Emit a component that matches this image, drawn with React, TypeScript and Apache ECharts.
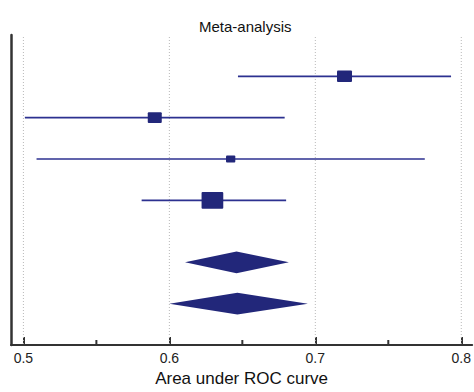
import React, { useEffect, useRef } from "react";
import * as echarts from "echarts";

// Individual studies (rows from top)
const studyRows = [1, 2, 3, 4];
const studyAUC = [0.72, 0.59, 0.642, 0.6295];
const studyLower = [0.647, 0.501, 0.509, 0.581];
const studyUpper = [0.793, 0.679, 0.775, 0.68];
const studyWeight = [15, 14, 9.3, 21.7];

// Pooled estimates (diamonds)
const pooledRows = [5.5, 6.5];
const pooledAUC = [0.646, 0.6466];
const pooledLower = [0.6107, 0.6];
const pooledUpper = [0.6819, 0.6949];

// Axis ticks
const majorTicks = [0.5, 0.6, 0.7, 0.8];
const minorTicks = [0.55, 0.65, 0.75];
const xMin = 0.4915;
const xMax = 0.8075;

const LINE = "#2c3190";
const FILL = "#22277a";
const FONT = "Liberation Sans, Arial, sans-serif";

export default function App() {
  const ref = useRef<HTMLDivElement>(null);
  useEffect(() => {
    if (!ref.current) return;
    const chart = echarts.init(ref.current, null, { renderer: "svg" });
    const studyData = studyRows.map((r, i) => [studyLower[i], studyUpper[i], studyAUC[i], r, studyWeight[i]]);
    const pooledData = pooledRows.map((r, i) => [pooledLower[i], pooledUpper[i], pooledAUC[i], r]);
    chart.setOption({
      animation: false,
      title: {
        text: "Meta-analysis",
        left: 194,
        top: 14,
        textStyle: { fontFamily: FONT, fontSize: 15, fontWeight: "normal", color: "#111" },
      },
      grid: { left: 11, right: 0, top: 35, bottom: 42 },
      xAxis: {
        type: "value",
        min: xMin,
        max: xMax,
        axisLine: { show: true, onZero: false, lineStyle: { color: "#333", width: 2 } },
        axisTick: { show: true, inside: true, length: 8, customValues: majorTicks, lineStyle: { color: "#333", width: 2 } },
        axisLabel: {
          customValues: majorTicks,
          margin: 6,
          fontFamily: FONT,
          fontSize: 14,
          color: "#222",
          formatter: (v: number) => String(v),
        },
        splitLine: { show: false },
        name: "Area under ROC curve",
        nameLocation: "middle",
        nameGap: 25,
        nameTextStyle: { fontFamily: FONT, fontSize: 17, color: "#111" },
      },
      yAxis: {
        type: "value",
        min: 0,
        max: 7.5,
        inverse: true,
        axisLine: { show: true, onZero: false, lineStyle: { color: "#333", width: 2.5 } },
        axisTick: { show: false },
        axisLabel: { show: false },
        splitLine: { show: false },
      },
      series: [
        {
          type: "custom",
          data: majorTicks.map((t) => [t, 0]),
          encode: { x: 0, y: 1 },
          silent: true,
          z: 1,
          renderItem: (params: any, api: any) => {
            const p = api.coord([api.value(0), 0]);
            const cs = params.coordSys;
            return {
              type: "line",
              shape: { x1: p[0], y1: cs.y + 2, x2: p[0], y2: cs.y + cs.height },
              style: { stroke: "#b8b8b8", lineWidth: 1, lineDash: [1, 2] },
            };
          },
        },
        {
          type: "custom",
          data: minorTicks.map((t) => [t, 0]),
          encode: { x: 0, y: 1 },
          silent: true,
          z: 5,
          renderItem: (params: any, api: any) => {
            const p = api.coord([api.value(0), 0]);
            const cs = params.coordSys;
            const yb = cs.y + cs.height;
            return {
              type: "line",
              shape: { x1: p[0], y1: yb - 5, x2: p[0], y2: yb },
              style: { stroke: "#333", lineWidth: 2 },
            };
          },
        },
        {
          type: "custom",
          data: studyData,
          encode: { x: [0, 1, 2], y: 3 },
          z: 3,
          renderItem: (params: any, api: any) => {
            const row = api.value(3);
            const a = api.coord([api.value(0), row]);
            const b = api.coord([api.value(1), row]);
            const c = api.coord([api.value(2), row]);
            const w = api.value(4);
            const h = w * 0.77;
            return {
              type: "group",
              children: [
                {
                  type: "line",
                  shape: { x1: a[0], y1: a[1], x2: b[0], y2: b[1] },
                  style: { stroke: LINE, lineWidth: 1.7 },
                },
                {
                  type: "rect",
                  shape: { x: c[0] - w / 2, y: c[1] - h / 2, width: w, height: h, r: 1 },
                  style: { fill: FILL },
                },
              ],
            };
          },
        },
        {
          type: "custom",
          data: pooledData,
          encode: { x: [0, 1, 2], y: 3 },
          z: 3,
          renderItem: (params: any, api: any) => {
            const row = api.value(3);
            const a = api.coord([api.value(0), row]);
            const b = api.coord([api.value(1), row]);
            const c = api.coord([api.value(2), row]);
            const hh = 10.8;
            return {
              type: "polygon",
              shape: {
                points: [
                  [a[0], a[1]],
                  [c[0], c[1] - hh],
                  [b[0], b[1]],
                  [c[0], c[1] + hh],
                ],
              },
              style: { fill: FILL },
            };
          },
        },
      ],
    });
    return () => chart.dispose();
  }, []);
  return (
    <div
      ref={ref}
      style={{ position: "fixed", left: 0, top: 0, width: 474, height: 392, background: "#fff" }}
    />
  );
}
